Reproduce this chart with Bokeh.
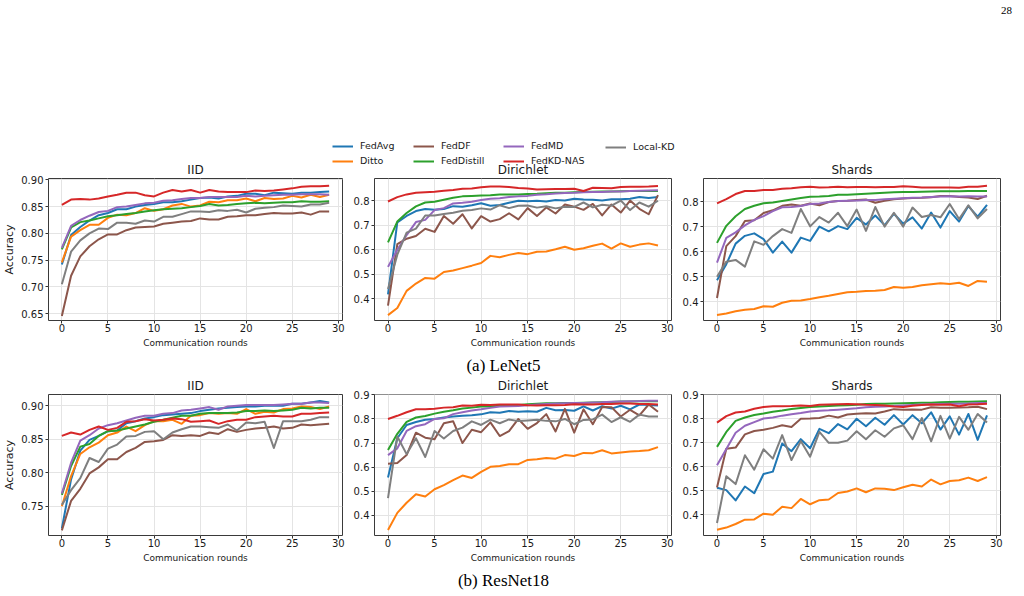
from bokeh.plotting import figure
from bokeh.layouts import column, row
from bokeh.models import Range1d, Label, Legend, LegendItem, FixedTicker, PrintfTickFormatter
from bokeh.embed import file_html
from bokeh.resources import INLINE

# ---------------------------------------------------------------- data
ROUNDS = list(range(30))
METHODS = ["FedAvg", "Ditto", "FedDF", "FedDistill", "FedMD", "FedKD-NAS", "Local-KD"]
COLORS = {
    "FedAvg": "#1f77b4", "Ditto": "#ff7f0e", "FedDF": "#8c564b", "FedDistill": "#2ca02c",
    "FedMD": "#9467bd", "FedKD-NAS": "#d62728", "Local-KD": "#7f7f7f",
}
X_TICKS = [0, 5, 10, 15, 20, 25, 30]

lenet_iid = {
    "FedAvg": [0.742, 0.797, 0.812, 0.824, 0.834, 0.838, 0.845, 0.845, 0.850, 0.853, 0.855, 0.858, 0.858, 0.860, 0.863,
               0.866, 0.867, 0.865, 0.869, 0.870, 0.874, 0.874, 0.871, 0.876, 0.875, 0.874, 0.876, 0.876, 0.877, 0.878],
    "Ditto": [0.746, 0.794, 0.806, 0.816, 0.816, 0.829, 0.835, 0.834, 0.838, 0.847, 0.842, 0.845, 0.852, 0.855, 0.850,
              0.852, 0.859, 0.858, 0.862, 0.862, 0.865, 0.860, 0.866, 0.864, 0.865, 0.870, 0.867, 0.872, 0.868, 0.872],
    "FedDF": [0.646, 0.721, 0.757, 0.776, 0.789, 0.798, 0.798, 0.806, 0.811, 0.812, 0.813, 0.818, 0.820, 0.822, 0.823,
              0.828, 0.826, 0.826, 0.831, 0.832, 0.834, 0.834, 0.836, 0.838, 0.837, 0.837, 0.839, 0.835, 0.841, 0.841],
    "FedDistill": [0.770, 0.811, 0.821, 0.824, 0.828, 0.832, 0.834, 0.836, 0.838, 0.841, 0.843, 0.845, 0.846, 0.847, 0.849,
                   0.851, 0.855, 0.852, 0.853, 0.855, 0.856, 0.857, 0.856, 0.857, 0.858, 0.858, 0.860, 0.859, 0.859, 0.860],
    "FedMD": [0.773, 0.814, 0.825, 0.833, 0.840, 0.842, 0.849, 0.850, 0.853, 0.856, 0.857, 0.861, 0.862, 0.864, 0.866,
              0.866, 0.868, 0.868, 0.868, 0.868, 0.870, 0.869, 0.870, 0.871, 0.872, 0.872, 0.873, 0.873, 0.873, 0.872],
    "FedKD-NAS": [0.853, 0.863, 0.864, 0.863, 0.865, 0.869, 0.872, 0.876, 0.876, 0.871, 0.869, 0.876, 0.881, 0.878, 0.881,
                  0.876, 0.881, 0.878, 0.877, 0.877, 0.877, 0.880, 0.879, 0.880, 0.882, 0.884, 0.887, 0.888, 0.888, 0.889],
    "Local-KD": [0.705, 0.766, 0.787, 0.800, 0.809, 0.808, 0.820, 0.820, 0.818, 0.824, 0.822, 0.831, 0.831, 0.836, 0.841,
                 0.841, 0.840, 0.843, 0.842, 0.844, 0.839, 0.846, 0.848, 0.849, 0.852, 0.851, 0.850, 0.854, 0.854, 0.857],
}

lenet_dirichlet = {
    "FedAvg": [0.418, 0.712, 0.738, 0.758, 0.766, 0.763, 0.766, 0.778, 0.776, 0.782, 0.790, 0.780, 0.783, 0.792, 0.800,
               0.798, 0.800, 0.797, 0.803, 0.801, 0.808, 0.805, 0.804, 0.801, 0.806, 0.806, 0.808, 0.815, 0.811, 0.815],
    "Ditto": [0.333, 0.362, 0.432, 0.462, 0.485, 0.482, 0.509, 0.515, 0.525, 0.535, 0.546, 0.575, 0.569, 0.579, 0.587,
              0.582, 0.592, 0.593, 0.602, 0.612, 0.600, 0.606, 0.616, 0.625, 0.605, 0.626, 0.612, 0.621, 0.626, 0.617],
    "FedDF": [0.372, 0.623, 0.645, 0.656, 0.686, 0.673, 0.738, 0.706, 0.745, 0.687, 0.737, 0.715, 0.725, 0.749, 0.724,
              0.770, 0.738, 0.773, 0.748, 0.785, 0.776, 0.763, 0.787, 0.740, 0.785, 0.752, 0.801, 0.767, 0.745, 0.823],
    "FedDistill": [0.630, 0.715, 0.750, 0.777, 0.793, 0.796, 0.804, 0.812, 0.818, 0.820, 0.822, 0.823, 0.826, 0.826, 0.826,
                   0.828, 0.829, 0.831, 0.833, 0.833, 0.835, 0.836, 0.837, 0.838, 0.838, 0.839, 0.840, 0.840, 0.840, 0.840],
    "FedMD": [0.530, 0.600, 0.660, 0.713, 0.722, 0.762, 0.770, 0.789, 0.792, 0.796, 0.803, 0.808, 0.810, 0.815, 0.818,
              0.820, 0.825, 0.827, 0.830, 0.832, 0.833, 0.835, 0.836, 0.836, 0.838, 0.838, 0.840, 0.841, 0.842, 0.843],
    "FedKD-NAS": [0.797, 0.815, 0.826, 0.833, 0.835, 0.837, 0.841, 0.844, 0.849, 0.850, 0.855, 0.858, 0.858, 0.856, 0.852,
                  0.850, 0.846, 0.847, 0.848, 0.848, 0.849, 0.840, 0.853, 0.852, 0.851, 0.856, 0.857, 0.857, 0.858, 0.860],
    "Local-KD": [0.440, 0.580, 0.670, 0.686, 0.740, 0.740, 0.746, 0.751, 0.759, 0.762, 0.769, 0.764, 0.782, 0.770, 0.780,
                 0.781, 0.772, 0.778, 0.769, 0.776, 0.775, 0.793, 0.773, 0.784, 0.780, 0.801, 0.762, 0.793, 0.776, 0.800],
}

lenet_shards = {
    "FedAvg": [0.486, 0.550, 0.632, 0.663, 0.673, 0.650, 0.596, 0.640, 0.596, 0.656, 0.643, 0.700, 0.681, 0.702, 0.690,
               0.735, 0.708, 0.744, 0.706, 0.751, 0.712, 0.737, 0.692, 0.756, 0.696, 0.762, 0.720, 0.782, 0.740, 0.787],
    "Ditto": [0.347, 0.353, 0.362, 0.368, 0.371, 0.382, 0.380, 0.396, 0.404, 0.405, 0.411, 0.418, 0.424, 0.431, 0.438,
              0.440, 0.443, 0.444, 0.447, 0.459, 0.456, 0.459, 0.466, 0.470, 0.474, 0.471, 0.476, 0.463, 0.483, 0.480],
    "FedDF": [0.415, 0.622, 0.662, 0.722, 0.725, 0.754, 0.765, 0.783, 0.788, 0.783, 0.792, 0.785, 0.798, 0.802, 0.803,
              0.806, 0.808, 0.795, 0.803, 0.809, 0.812, 0.814, 0.815, 0.817, 0.822, 0.822, 0.818, 0.816, 0.810, 0.823],
    "FedDistill": [0.635, 0.703, 0.741, 0.770, 0.783, 0.793, 0.796, 0.802, 0.808, 0.814, 0.819, 0.820, 0.822, 0.827, 0.827,
                   0.829, 0.831, 0.833, 0.835, 0.837, 0.838, 0.838, 0.839, 0.840, 0.841, 0.841, 0.841, 0.842, 0.842, 0.842],
    "FedMD": [0.556, 0.655, 0.677, 0.705, 0.727, 0.742, 0.762, 0.777, 0.778, 0.782, 0.790, 0.792, 0.798, 0.802, 0.803,
              0.804, 0.806, 0.806, 0.809, 0.811, 0.813, 0.815, 0.816, 0.818, 0.820, 0.821, 0.820, 0.821, 0.820, 0.820],
    "FedKD-NAS": [0.793, 0.810, 0.830, 0.842, 0.842, 0.846, 0.846, 0.851, 0.853, 0.857, 0.859, 0.856, 0.857, 0.859, 0.857,
                  0.858, 0.858, 0.857, 0.858, 0.858, 0.861, 0.859, 0.856, 0.856, 0.856, 0.856, 0.855, 0.859, 0.859, 0.863],
    "Local-KD": [0.500, 0.560, 0.567, 0.540, 0.641, 0.627, 0.662, 0.690, 0.675, 0.770, 0.701, 0.738, 0.716, 0.755, 0.702,
                 0.768, 0.683, 0.778, 0.700, 0.755, 0.700, 0.776, 0.738, 0.746, 0.737, 0.790, 0.730, 0.785, 0.733, 0.770],
}

resnet_iid = {
    "FedAvg": [0.717, 0.790, 0.833, 0.849, 0.855, 0.862, 0.863, 0.874, 0.877, 0.881, 0.883, 0.886, 0.887, 0.888, 0.889,
               0.892, 0.894, 0.896, 0.897, 0.898, 0.899, 0.899, 0.900, 0.900, 0.900, 0.903, 0.903, 0.905, 0.907, 0.905],
    "Ditto": [0.750, 0.795, 0.828, 0.838, 0.845, 0.856, 0.860, 0.869, 0.862, 0.871, 0.877, 0.877, 0.879, 0.873, 0.885,
              0.886, 0.889, 0.888, 0.889, 0.888, 0.895, 0.888, 0.891, 0.890, 0.895, 0.896, 0.899, 0.898, 0.895, 0.899],
    "FedDF": [0.714, 0.758, 0.776, 0.799, 0.808, 0.820, 0.820, 0.831, 0.837, 0.846, 0.847, 0.849, 0.856, 0.855, 0.856,
              0.855, 0.860, 0.858, 0.865, 0.861, 0.864, 0.866, 0.867, 0.869, 0.866, 0.867, 0.872, 0.871, 0.872, 0.873],
    "FedDistill": [0.767, 0.810, 0.839, 0.843, 0.855, 0.862, 0.863, 0.866, 0.869, 0.872, 0.876, 0.879, 0.882, 0.885, 0.885,
                   0.888, 0.889, 0.889, 0.889, 0.890, 0.892, 0.892, 0.893, 0.892, 0.893, 0.894, 0.897, 0.896, 0.897, 0.897],
    "FedMD": [0.769, 0.815, 0.848, 0.856, 0.866, 0.871, 0.874, 0.878, 0.882, 0.885, 0.885, 0.888, 0.889, 0.893, 0.894,
              0.896, 0.898, 0.894, 0.899, 0.900, 0.901, 0.901, 0.901, 0.901, 0.902, 0.903, 0.903, 0.905, 0.905, 0.904],
    "FedKD-NAS": [0.855, 0.860, 0.857, 0.864, 0.869, 0.864, 0.867, 0.876, 0.877, 0.880, 0.878, 0.879, 0.881, 0.880, 0.876,
                  0.877, 0.878, 0.873, 0.877, 0.879, 0.879, 0.883, 0.884, 0.885, 0.884, 0.884, 0.888, 0.888, 0.889, 0.890],
    "Local-KD": [0.752, 0.774, 0.792, 0.822, 0.816, 0.836, 0.842, 0.854, 0.855, 0.861, 0.862, 0.850, 0.860, 0.865, 0.869,
                 0.869, 0.868, 0.867, 0.872, 0.863, 0.875, 0.874, 0.876, 0.837, 0.877, 0.877, 0.877, 0.879, 0.883, 0.883],
}

resnet_dirichlet = {
    "FedAvg": [0.557, 0.720, 0.775, 0.787, 0.797, 0.800, 0.806, 0.810, 0.813, 0.815, 0.819, 0.828, 0.826, 0.833, 0.830,
               0.832, 0.830, 0.846, 0.836, 0.837, 0.834, 0.852, 0.835, 0.853, 0.843, 0.855, 0.840, 0.860, 0.858, 0.856],
    "Ditto": [0.339, 0.410, 0.452, 0.487, 0.478, 0.508, 0.525, 0.546, 0.565, 0.555, 0.580, 0.601, 0.605, 0.612, 0.612,
              0.630, 0.633, 0.638, 0.635, 0.650, 0.646, 0.659, 0.658, 0.670, 0.657, 0.661, 0.665, 0.667, 0.670, 0.683],
    "FedDF": [0.614, 0.617, 0.650, 0.743, 0.722, 0.716, 0.782, 0.790, 0.700, 0.755, 0.745, 0.786, 0.729, 0.749, 0.800,
              0.759, 0.783, 0.820, 0.748, 0.842, 0.743, 0.840, 0.778, 0.850, 0.849, 0.810, 0.838, 0.815, 0.860, 0.830],
    "FedDistill": [0.671, 0.738, 0.788, 0.806, 0.812, 0.822, 0.830, 0.836, 0.843, 0.847, 0.852, 0.852, 0.855, 0.857, 0.858,
                   0.861, 0.863, 0.865, 0.865, 0.866, 0.866, 0.867, 0.868, 0.869, 0.870, 0.872, 0.872, 0.873, 0.873, 0.873],
    "FedMD": [0.650, 0.678, 0.750, 0.770, 0.778, 0.800, 0.803, 0.820, 0.828, 0.835, 0.840, 0.846, 0.852, 0.853, 0.854,
              0.857, 0.860, 0.862, 0.864, 0.865, 0.866, 0.866, 0.868, 0.869, 0.871, 0.872, 0.873, 0.874, 0.876, 0.876],
    "FedKD-NAS": [0.800, 0.813, 0.828, 0.840, 0.840, 0.842, 0.847, 0.849, 0.856, 0.855, 0.859, 0.858, 0.860, 0.860, 0.860,
                  0.857, 0.856, 0.857, 0.857, 0.858, 0.861, 0.860, 0.860, 0.862, 0.862, 0.864, 0.864, 0.862, 0.862, 0.860],
    "Local-KD": [0.471, 0.727, 0.654, 0.720, 0.642, 0.750, 0.719, 0.750, 0.764, 0.790, 0.775, 0.797, 0.782, 0.798, 0.791,
                 0.794, 0.797, 0.792, 0.790, 0.800, 0.778, 0.796, 0.798, 0.818, 0.787, 0.807, 0.788, 0.818, 0.810, 0.810],
}

resnet_shards = {
    "FedAvg": [0.513, 0.503, 0.460, 0.518, 0.490, 0.570, 0.580, 0.697, 0.665, 0.715, 0.677, 0.758, 0.740, 0.778, 0.756,
               0.800, 0.769, 0.804, 0.775, 0.815, 0.776, 0.815, 0.781, 0.827, 0.755, 0.810, 0.734, 0.820, 0.712, 0.814],
    "Ditto": [0.338, 0.347, 0.362, 0.380, 0.381, 0.405, 0.400, 0.434, 0.428, 0.466, 0.444, 0.461, 0.464, 0.491, 0.497,
              0.510, 0.494, 0.510, 0.509, 0.503, 0.515, 0.525, 0.518, 0.547, 0.527, 0.541, 0.544, 0.555, 0.541, 0.557],
    "FedDF": [0.514, 0.675, 0.680, 0.735, 0.749, 0.754, 0.762, 0.773, 0.766, 0.800, 0.801, 0.803, 0.813, 0.805, 0.818,
              0.821, 0.823, 0.822, 0.830, 0.840, 0.838, 0.839, 0.838, 0.848, 0.846, 0.846, 0.847, 0.848, 0.850, 0.840],
    "FedDistill": [0.683, 0.745, 0.791, 0.805, 0.816, 0.822, 0.829, 0.834, 0.841, 0.845, 0.849, 0.851, 0.853, 0.855, 0.856,
                   0.858, 0.861, 0.862, 0.863, 0.864, 0.865, 0.866, 0.867, 0.867, 0.869, 0.870, 0.871, 0.871, 0.872, 0.873],
    "FedMD": [0.606, 0.674, 0.742, 0.771, 0.786, 0.801, 0.805, 0.813, 0.819, 0.824, 0.830, 0.833, 0.835, 0.838, 0.841,
              0.844, 0.848, 0.850, 0.851, 0.853, 0.855, 0.857, 0.859, 0.860, 0.861, 0.862, 0.863, 0.864, 0.866, 0.866],
    "FedKD-NAS": [0.784, 0.811, 0.826, 0.830, 0.842, 0.849, 0.852, 0.852, 0.853, 0.855, 0.853, 0.858, 0.859, 0.860, 0.861,
                  0.860, 0.858, 0.857, 0.855, 0.851, 0.849, 0.854, 0.857, 0.859, 0.858, 0.859, 0.852, 0.859, 0.860, 0.862],
    "Local-KD": [0.366, 0.561, 0.528, 0.648, 0.588, 0.673, 0.634, 0.732, 0.628, 0.707, 0.642, 0.745, 0.700, 0.700, 0.709,
                 0.748, 0.715, 0.752, 0.725, 0.760, 0.773, 0.715, 0.803, 0.706, 0.812, 0.717, 0.808, 0.754, 0.820, 0.784],
}

# ---------------------------------------------------------------- styling
FONT = "DejaVu Sans"
TEXT = "#1a1a1a"
FRAME_W, FRAME_H = 297, 142


def panel(series, title, y_range, y_ticks, y_fmt, borders, ylabel=None):
    bl, br, bt, bb = borders
    p = figure(width=bl + FRAME_W + br, height=bt + FRAME_H + bb,
               x_range=Range1d(-1.45, 30.45), y_range=Range1d(*y_range),
               toolbar_location=None, output_backend="svg", title=title,
               min_border_left=bl, min_border_right=br, min_border_top=bt, min_border_bottom=bb)
    p.border_fill_alpha = 0
    p.outline_line_color = "#3a3a3a"
    p.outline_line_width = 1

    p.title.align = "center"
    p.title.vertical_align = "bottom"
    p.title.standoff = 4
    p.title.text_font = FONT
    p.title.text_font_size = "12px"
    p.title.text_font_style = "normal"
    p.title.text_color = TEXT

    for name in METHODS:
        p.line(ROUNDS, series[name], line_color=COLORS[name], line_width=2, line_join="round")

    p.xaxis.ticker = FixedTicker(ticks=X_TICKS)
    p.yaxis.ticker = FixedTicker(ticks=y_ticks)
    p.yaxis.formatter = PrintfTickFormatter(format=y_fmt)
    for ax in (p.xaxis[0], p.yaxis[0]):
        ax.axis_line_color = None
        ax.major_tick_line_color = "#333333"
        ax.major_tick_in = 0
        ax.major_tick_out = 3
        ax.minor_tick_line_color = None
        ax.major_label_text_font = FONT
        ax.major_label_text_font_size = "10px"
        ax.major_label_text_color = TEXT
        ax.axis_label_text_font = FONT
        ax.axis_label_text_font_style = "normal"
        ax.axis_label_text_color = TEXT
    p.xaxis.major_label_standoff = 0
    p.yaxis.major_label_standoff = 2
    p.xaxis.axis_label = "Communication rounds"
    p.xaxis.axis_label_text_font_size = "9px"
    p.xaxis.axis_label_standoff = 3
    if ylabel:
        p.yaxis.axis_label = ylabel
        p.yaxis.axis_label_text_font_size = "11px"
        p.yaxis.axis_label_standoff = 2

    p.grid.grid_line_color = "#e4e4e4"
    p.grid.grid_line_width = 1
    return p


def text_strip(height, text, x, y, size):
    s = figure(width=1024, height=height, x_range=Range1d(0, 1024), y_range=Range1d(0, height),
               toolbar_location=None, output_backend="svg", x_axis_location=None, y_axis_location=None,
               min_border=0, outline_line_color=None)
    s.grid.grid_line_color = None
    s.border_fill_alpha = 0
    s.background_fill_alpha = 0
    s.add_layout(Label(x=x, y=y, x_units="screen", y_units="screen", text=text, text_align="center",
                       text_baseline="middle", text_font="Liberation Serif", text_font_size=size,
                       text_color="black"))
    return s


# ---------------------------------------------------------------- header: page number + shared legend
HEAD_H = 170
head = text_strip(HEAD_H, "28", 1006, HEAD_H - 10, "11px")
head.margin = (0, 0, -20, 0)

# legend samples: one undefined point each, so only the legend swatch shows
samples = {name: head.line(x=[0], y=[float("nan")], line_color=COLORS[name], line_width=2)
           for name in METHODS}
legend_columns = [(["FedAvg", "Ditto"], 332), (["FedDF", "FedDistill"], 413),
                  (["FedMD", "FedKD-NAS"], 503), (["Local-KD"], 605)]
for names, lx in legend_columns:
    n = len(names)
    box_h = n * 10 + (n - 1) * 4
    leg = Legend(items=[LegendItem(label=nm, renderers=[samples[nm]]) for nm in names],
                 location=(lx, HEAD_H - 142 - box_h), orientation="vertical",
                 padding=0, margin=0, spacing=4, glyph_width=21, glyph_height=10,
                 label_height=10, label_standoff=7, label_text_font=FONT,
                 label_text_font_size="9.5px", label_text_color=TEXT,
                 border_line_color=None, background_fill_alpha=0)
    head.add_layout(leg)

# ---------------------------------------------------------------- panels
TOP = [(45, 8, 28, 32), (24, 7, 28, 32), (25, 24, 28, 32)]
BOT = [(45, 8, 22, 29), (24, 7, 22, 29), (25, 24, 22, 29)]

tick_1 = [0.4, 0.5, 0.6, 0.7, 0.8]
tick_2 = [0.4, 0.5, 0.6, 0.7, 0.8, 0.9]

a1 = panel(lenet_iid, "IID", (0.6375, 0.9024), [0.65, 0.70, 0.75, 0.80, 0.85, 0.90], "%.2f", TOP[0], "Accuracy")
a2 = panel(lenet_dirichlet, "Dirichlet", (0.311, 0.891), tick_1, "%.1f", TOP[1])
a3 = panel(lenet_shards, "Shards", (0.325, 0.892), tick_1, "%.1f", TOP[2])

b1 = panel(resnet_iid, "IID", (0.7063, 0.9168), [0.75, 0.80, 0.85, 0.90], "%.2f", BOT[0], "Accuracy")
b2 = panel(resnet_dirichlet, "Dirichlet", (0.316, 0.9015), tick_2, "%.1f", BOT[1])
b3 = panel(resnet_shards, "Shards", (0.314, 0.901), tick_2, "%.1f", BOT[2])

# caption strip overlaps the top of the lower row slightly (both are transparent)
cap_a = text_strip(26, "(a) LeNet5", 503, 13, "17px")
cap_a.margin = (0, 0, -6, 0)
cap_b = text_strip(31, "(b) ResNet18", 503, 16, "17px")

page = column(head, row(a1, a2, a3), cap_a, row(b1, b2, b3), cap_b)

open("out.html", "w").write(file_html(page, INLINE))
